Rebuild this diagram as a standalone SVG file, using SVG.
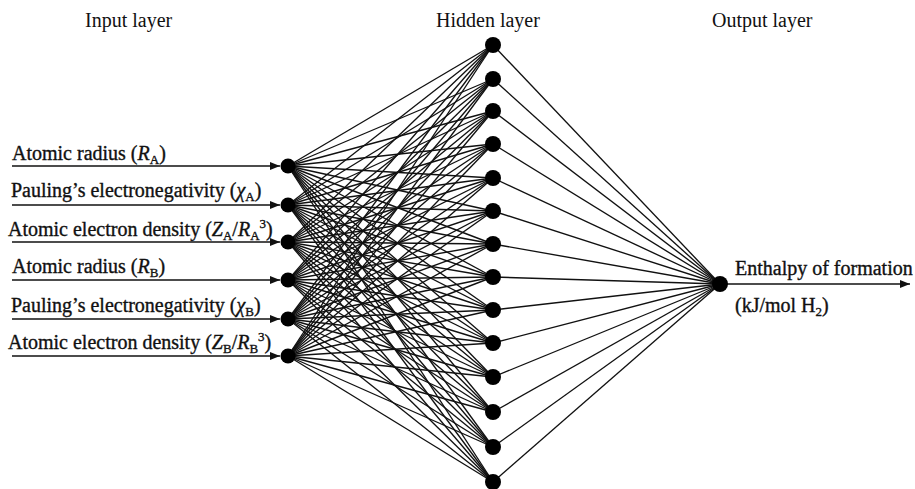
<svg xmlns="http://www.w3.org/2000/svg" width="915" height="489" viewBox="0 0 915 489">
<style>
text{font-family:"Liberation Serif","Times New Roman",serif;font-size:20px;fill:#111}
.lb{stroke:#111;stroke-width:0.35}
.c line{stroke:#111;stroke-width:1.35}
.a line{stroke:#111;stroke-width:1.5}
.n{fill:#000}
</style>
<defs>
<marker id="ah" markerWidth="10" markerHeight="8" refX="10" refY="4" orient="auto" markerUnits="userSpaceOnUse"><path d="M0,0 L10,4 L0,8 z" fill="#111"/></marker>
</defs>
<rect width="915" height="489" fill="#fff"/>
<g id="headers">
<text x="85" y="27">Input layer</text>
<text x="436" y="27">Hidden layer</text>
<text x="712" y="27">Output layer</text>
</g>
<g id="connectors" class="c">
<line x1="288" y1="166" x2="493" y2="45"/><line x1="288" y1="166" x2="493" y2="79"/><line x1="288" y1="166" x2="493" y2="111"/><line x1="288" y1="166" x2="493" y2="144"/><line x1="288" y1="166" x2="493" y2="178"/><line x1="288" y1="166" x2="493" y2="211"/><line x1="288" y1="166" x2="493" y2="244"/><line x1="288" y1="166" x2="493" y2="277"/><line x1="288" y1="166" x2="493" y2="310"/><line x1="288" y1="166" x2="493" y2="343"/><line x1="288" y1="166" x2="493" y2="377"/><line x1="288" y1="166" x2="493" y2="412"/><line x1="288" y1="166" x2="493" y2="447"/><line x1="288" y1="166" x2="493" y2="482"/>
<line x1="288" y1="205" x2="493" y2="45"/><line x1="288" y1="205" x2="493" y2="79"/><line x1="288" y1="205" x2="493" y2="111"/><line x1="288" y1="205" x2="493" y2="144"/><line x1="288" y1="205" x2="493" y2="178"/><line x1="288" y1="205" x2="493" y2="211"/><line x1="288" y1="205" x2="493" y2="244"/><line x1="288" y1="205" x2="493" y2="277"/><line x1="288" y1="205" x2="493" y2="310"/><line x1="288" y1="205" x2="493" y2="343"/><line x1="288" y1="205" x2="493" y2="377"/><line x1="288" y1="205" x2="493" y2="412"/><line x1="288" y1="205" x2="493" y2="447"/><line x1="288" y1="205" x2="493" y2="482"/>
<line x1="288" y1="242" x2="493" y2="45"/><line x1="288" y1="242" x2="493" y2="79"/><line x1="288" y1="242" x2="493" y2="111"/><line x1="288" y1="242" x2="493" y2="144"/><line x1="288" y1="242" x2="493" y2="178"/><line x1="288" y1="242" x2="493" y2="211"/><line x1="288" y1="242" x2="493" y2="244"/><line x1="288" y1="242" x2="493" y2="277"/><line x1="288" y1="242" x2="493" y2="310"/><line x1="288" y1="242" x2="493" y2="343"/><line x1="288" y1="242" x2="493" y2="377"/><line x1="288" y1="242" x2="493" y2="412"/><line x1="288" y1="242" x2="493" y2="447"/><line x1="288" y1="242" x2="493" y2="482"/>
<line x1="288" y1="280" x2="493" y2="45"/><line x1="288" y1="280" x2="493" y2="79"/><line x1="288" y1="280" x2="493" y2="111"/><line x1="288" y1="280" x2="493" y2="144"/><line x1="288" y1="280" x2="493" y2="178"/><line x1="288" y1="280" x2="493" y2="211"/><line x1="288" y1="280" x2="493" y2="244"/><line x1="288" y1="280" x2="493" y2="277"/><line x1="288" y1="280" x2="493" y2="310"/><line x1="288" y1="280" x2="493" y2="343"/><line x1="288" y1="280" x2="493" y2="377"/><line x1="288" y1="280" x2="493" y2="412"/><line x1="288" y1="280" x2="493" y2="447"/><line x1="288" y1="280" x2="493" y2="482"/>
<line x1="288" y1="319" x2="493" y2="45"/><line x1="288" y1="319" x2="493" y2="79"/><line x1="288" y1="319" x2="493" y2="111"/><line x1="288" y1="319" x2="493" y2="144"/><line x1="288" y1="319" x2="493" y2="178"/><line x1="288" y1="319" x2="493" y2="211"/><line x1="288" y1="319" x2="493" y2="244"/><line x1="288" y1="319" x2="493" y2="277"/><line x1="288" y1="319" x2="493" y2="310"/><line x1="288" y1="319" x2="493" y2="343"/><line x1="288" y1="319" x2="493" y2="377"/><line x1="288" y1="319" x2="493" y2="412"/><line x1="288" y1="319" x2="493" y2="447"/><line x1="288" y1="319" x2="493" y2="482"/>
<line x1="288" y1="356" x2="493" y2="45"/><line x1="288" y1="356" x2="493" y2="79"/><line x1="288" y1="356" x2="493" y2="111"/><line x1="288" y1="356" x2="493" y2="144"/><line x1="288" y1="356" x2="493" y2="178"/><line x1="288" y1="356" x2="493" y2="211"/><line x1="288" y1="356" x2="493" y2="244"/><line x1="288" y1="356" x2="493" y2="277"/><line x1="288" y1="356" x2="493" y2="310"/><line x1="288" y1="356" x2="493" y2="343"/><line x1="288" y1="356" x2="493" y2="377"/><line x1="288" y1="356" x2="493" y2="412"/><line x1="288" y1="356" x2="493" y2="447"/><line x1="288" y1="356" x2="493" y2="482"/>
<line x1="493" y1="45" x2="720" y2="284"/><line x1="493" y1="79" x2="720" y2="284"/><line x1="493" y1="111" x2="720" y2="284"/><line x1="493" y1="144" x2="720" y2="284"/><line x1="493" y1="178" x2="720" y2="284"/><line x1="493" y1="211" x2="720" y2="284"/><line x1="493" y1="244" x2="720" y2="284"/><line x1="493" y1="277" x2="720" y2="284"/><line x1="493" y1="310" x2="720" y2="284"/><line x1="493" y1="343" x2="720" y2="284"/><line x1="493" y1="377" x2="720" y2="284"/><line x1="493" y1="412" x2="720" y2="284"/><line x1="493" y1="447" x2="720" y2="284"/><line x1="493" y1="482" x2="720" y2="284"/>
</g>
<g id="arrows" class="a">
<line x1="12" y1="166" x2="280" y2="166" marker-end="url(#ah)"/>
<line x1="12" y1="205" x2="280" y2="205" marker-end="url(#ah)"/>
<line x1="12" y1="242" x2="280" y2="242" marker-end="url(#ah)"/>
<line x1="12" y1="280" x2="280" y2="280" marker-end="url(#ah)"/>
<line x1="12" y1="319" x2="280" y2="319" marker-end="url(#ah)"/>
<line x1="12" y1="356" x2="280" y2="356" marker-end="url(#ah)"/>
<line x1="720" y1="284" x2="910" y2="284" marker-end="url(#ah)"/>
</g>
<g id="input-labels" class="lb">
<text class="lb" x="12" y="160">Atomic radius (<tspan font-style="italic">R</tspan><tspan dy="4" font-size="13">A</tspan><tspan dy="-4">)</tspan></text>
<text class="lb" x="11" y="197">Pauling’s electronegativity (<tspan font-style="italic">χ</tspan><tspan dy="4" font-size="13">A</tspan><tspan dy="-4">)</tspan></text>
<text class="lb" x="8" y="236">Atomic electron density (<tspan font-style="italic">Z</tspan><tspan dy="4" font-size="13">A</tspan><tspan dy="-4">/</tspan><tspan font-style="italic">R</tspan><tspan dy="4" font-size="13">A</tspan><tspan dy="-12" font-size="13">3</tspan><tspan dy="8">)</tspan></text>
<text class="lb" x="12" y="273">Atomic radius (<tspan font-style="italic">R</tspan><tspan dy="4" font-size="13">B</tspan><tspan dy="-4">)</tspan></text>
<text class="lb" x="11" y="312">Pauling’s electronegativity (<tspan font-style="italic">χ</tspan><tspan dy="4" font-size="13">B</tspan><tspan dy="-4">)</tspan></text>
<text class="lb" x="8" y="349">Atomic electron density (<tspan font-style="italic">Z</tspan><tspan dy="4" font-size="13">B</tspan><tspan dy="-4">/</tspan><tspan font-style="italic">R</tspan><tspan dy="4" font-size="13">B</tspan><tspan dy="-12" font-size="13">3</tspan><tspan dy="8">)</tspan></text>
</g>
<g id="input-nodes">
<g id="in1"><circle class="n" cx="288" cy="166" r="7.5"/></g>
<g id="in2"><circle class="n" cx="288" cy="205" r="7.5"/></g>
<g id="in3"><circle class="n" cx="288" cy="242" r="7.5"/></g>
<g id="in4"><circle class="n" cx="288" cy="280" r="7.5"/></g>
<g id="in5"><circle class="n" cx="288" cy="319" r="7.5"/></g>
<g id="in6"><circle class="n" cx="288" cy="356" r="7.5"/></g>
</g>
<g id="hidden-nodes">
<g id="h1"><circle class="n" cx="493" cy="45" r="8"/></g>
<g id="h2"><circle class="n" cx="493" cy="79" r="8"/></g>
<g id="h3"><circle class="n" cx="493" cy="111" r="8"/></g>
<g id="h4"><circle class="n" cx="493" cy="144" r="8"/></g>
<g id="h5"><circle class="n" cx="493" cy="178" r="8"/></g>
<g id="h6"><circle class="n" cx="493" cy="211" r="8"/></g>
<g id="h7"><circle class="n" cx="493" cy="244" r="8"/></g>
<g id="h8"><circle class="n" cx="493" cy="277" r="8"/></g>
<g id="h9"><circle class="n" cx="493" cy="310" r="8"/></g>
<g id="h10"><circle class="n" cx="493" cy="343" r="8"/></g>
<g id="h11"><circle class="n" cx="493" cy="377" r="8"/></g>
<g id="h12"><circle class="n" cx="493" cy="412" r="8"/></g>
<g id="h13"><circle class="n" cx="493" cy="447" r="8"/></g>
<g id="h14"><circle class="n" cx="493" cy="482" r="8"/></g>
</g>
<g id="output-node">
<circle class="n" cx="720" cy="284" r="8"/>
<text class="lb" x="735" y="275">Enthalpy of formation</text>
<text class="lb" x="735" y="312">(kJ/mol H<tspan dy="4" font-size="13">2</tspan><tspan dy="-4">)</tspan></text>
</g>
</svg>
